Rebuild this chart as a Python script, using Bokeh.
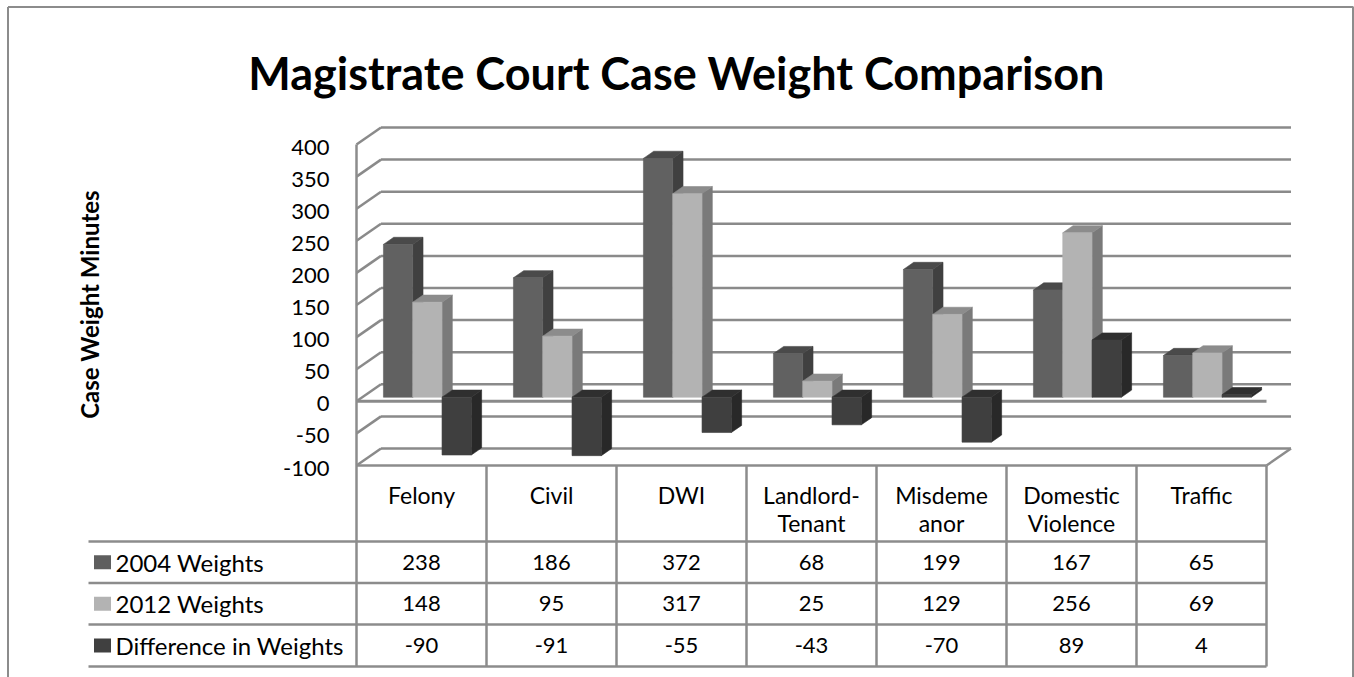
from bokeh.plotting import figure
from bokeh.models import Range1d
from bokeh.embed import file_html
from bokeh.resources import INLINE
from bokeh.core.properties import value

# ---------------- data ----------------
categories = ["Felony", "Civil", "DWI", "Landlord-Tenant", "Misdemeanor",
              "Domestic Violence", "Traffic"]
category_lines = [["Felony"], ["Civil"], ["DWI"], ["Landlord-", "Tenant"],
                  ["Misdeme", "anor"], ["Domestic", "Violence"], ["Traffic"]]
series_names = ["2004 Weights", "2012 Weights", "Difference in Weights"]
weights_2004 = [238, 186, 372, 68, 199, 167, 65]
weights_2012 = [148, 95, 317, 25, 129, 256, 69]
difference = [-90, -91, -55, -43, -70, 89, 4]
y_ticks = [-100, -50, 0, 50, 100, 150, 200, 250, 300, 350, 400]
title_text = "Magistrate Court Case Weight Comparison"
y_title = "Case Weight Minutes"

series_values = [weights_2004, weights_2012, difference]
# (front, top, side) colours per series
series_colors = [("#616161", "#4a4a4a", "#404040"),
                 ("#b3b3b3", "#8c8c8c", "#7a7a7a"),
                 ("#3f3f3f", "#2f2f2f", "#282828")]
swatch_colors = ["#5e5e5e", "#b3b3b3", "#404040"]

FONT = value("Lato")
W, H = 1354, 677
PX_U = 130.0      # pixels per category
PX_V = 0.642      # pixels per value unit
X0, Y0 = 356.0, 400.8   # position of category 0 / value 0 on the front plane


def ux(px):
    return (px - X0) / PX_U


def vy(py):
    return (Y0 - py) / PX_V


p = figure(width=W, height=H,
           x_range=Range1d(ux(0), ux(W)), y_range=Range1d(vy(H), vy(0)),
           output_backend="svg", toolbar_location=None,
           x_axis_type=None, y_axis_type=None, min_border=0)
p.outline_line_color = None
p.background_fill_color = "white"
p.border_fill_color = "white"

GRID = "#8a8a8a"
n = len(categories)
DU = 24.5 / PX_U          # depth offset (full depth)
DV = 17.0 / PX_V
vmin, vmax = y_ticks[0], y_ticks[-1]

# outer chart border (left, top, right)
BC = "#8c8c8c"
p.line([ux(7.5), ux(7.5)], [vy(6.5), vy(H)], line_color=BC, line_width=2)
p.line([ux(7.5), ux(1353)], [vy(6.5), vy(6.5)], line_color=BC, line_width=2)
p.line([ux(1352.5), ux(1352.5)], [vy(6.5), vy(H)], line_color=BC, line_width=2)

# back wall gridlines and left wall obliques
gx, gy = [], []
for t in y_ticks:
    gx.append([DU, n + DU]); gy.append([t + DV, t + DV])
    gx.append([0, DU]); gy.append([t, t + DV])
p.multi_line(gx, gy, line_color=GRID, line_width=2.5)

# front floor line at 0
p.line([0, n], [0, 0], line_color=GRID, line_width=3)

# ---------------- 3D bars ----------------
F0, F1 = 0.24, 0.66
bw = 0.2254
g0 = 0.5 - 1.5 * bw
xs, ys, cols = [], [], []
for i in range(n):
    for s, vals in enumerate(series_values):
        v = vals[i]
        b, t = min(v, 0), max(v, 0)
        u0 = i + g0 + s * bw + F0 * DU
        sh = F0 * DV
        du, dv = (F1 - F0) * DU, (F1 - F0) * DV
        front_c, top_c, side_c = series_colors[s]
        # side
        xs.append([u0 + bw, u0 + bw + du, u0 + bw + du, u0 + bw])
        ys.append([b + sh, b + sh + dv, t + sh + dv, t + sh])
        cols.append(side_c)
        # top
        xs.append([u0, u0 + bw, u0 + bw + du, u0 + du])
        ys.append([t + sh, t + sh, t + sh + dv, t + sh + dv])
        cols.append(top_c)
        # front
        xs.append([u0, u0 + bw, u0 + bw, u0])
        ys.append([b + sh, b + sh, t + sh, t + sh])
        cols.append(front_c)
p.patches(xs, ys, fill_color=cols, line_color=cols, line_width=0.6)

# ---------------- y tick labels ----------------
p.text(x=[ux(329)] * len(y_ticks), y=[t - 2.5 / PX_V for t in y_ticks],
       text=[str(t) for t in y_ticks], text_align="right", text_baseline="middle",
       text_font=FONT, text_font_size="22px", text_color="black")

# axis title
p.text(x=[ux(89)], y=[vy(304)], text=[y_title], angle=1.5708,
       text_align="center", text_baseline="middle", text_font=FONT,
       text_font_style="bold", text_font_size="24px", text_color="black")

# chart title
p.text(x=[ux(676)], y=[vy(72)], text=[title_text], text_align="center",
       text_baseline="middle", text_font=FONT, text_font_style="bold",
       text_font_size="45px", text_color="black")

# ---------------- data table ----------------
TL = "#8c8c8c"
row_lines = [541, 582.5, 624, 666]
tx, ty = [], []
tx.append([0, n]); ty.append([vmin, vmin])          # front bottom edge / table top
for ry in row_lines:
    tx.append([ux(88), n]); ty.append([vy(ry), vy(ry)])
for k in range(n + 1):
    tx.append([k, k]); ty.append([vmin if k else vmax, vy(666)])
tx.append([n, n + DU]); ty.append([vmin, vmin + DV])  # bottom right edge
p.multi_line(tx, ty, line_color=TL, line_width=2.5)

# category header texts
hx, hy, ht = [], [], []
for i, lines in enumerate(category_lines):
    for j, ln in enumerate(lines):
        hx.append(i + 0.5); hy.append(vy(494 + 28 * j)); ht.append(ln)
p.text(x=hx, y=hy, text=ht, text_align="center", text_baseline="middle",
       text_font=FONT, text_font_size="23px", text_color="black")

# rows
row_centers = [561.7, 603.2, 645.0]
for s, vals in enumerate(series_values):
    cy = vy(row_centers[s])
    p.rect(x=[ux(102)], y=[cy], width=17 / PX_U, height=14 / PX_V,
           fill_color=swatch_colors[s], line_color=None)
    p.text(x=[ux(115)], y=[cy], text=[series_names[s]], text_align="left",
           text_baseline="middle", text_font=FONT, text_font_size="24px",
           text_color="black")
    p.text(x=[i + 0.5 for i in range(n)], y=[cy] * n, text=[str(v) for v in vals],
           text_align="center", text_baseline="middle", text_font=FONT,
           text_font_size="22px", text_color="black")

open("out.html", "w").write(file_html(p, INLINE))
